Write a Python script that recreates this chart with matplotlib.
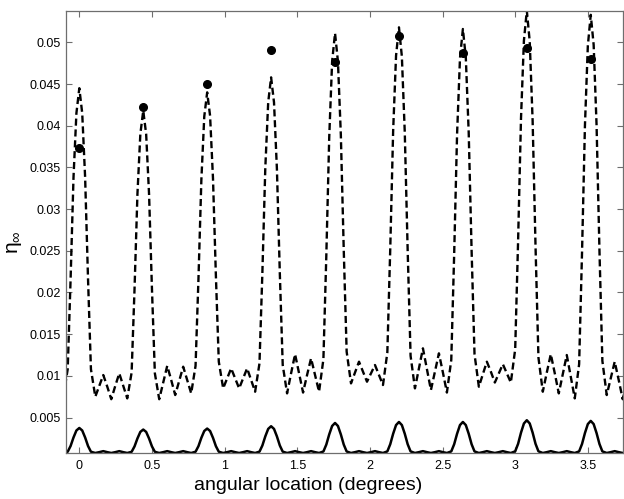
import matplotlib
matplotlib.use("Agg")
import matplotlib.pyplot as plt

plt.rcParams['font.family'] = ['Liberation Sans', 'DejaVu Sans']

# angular location (degrees), sampled around each of the nine main lobes
angle = [
    -0.11, -0.08, -0.06, -0.04, -0.02,
    0.00, 0.02, 0.04, 0.06, 0.08, 0.11, 0.1375, 0.165, 0.1925, 0.22, 0.2475, 0.275, 0.3025, 0.33, 0.36, 0.38, 0.40, 0.42,
    0.44, 0.46, 0.48, 0.50, 0.52, 0.55, 0.5775, 0.605, 0.6325, 0.66, 0.6875, 0.715, 0.7425, 0.77, 0.80, 0.82, 0.84, 0.86,
    0.88, 0.90, 0.92, 0.94, 0.96, 0.99, 1.0175, 1.045, 1.0725, 1.10, 1.1275, 1.155, 1.1825, 1.21, 1.24, 1.26, 1.28, 1.30,
    1.32, 1.34, 1.36, 1.38, 1.40, 1.43, 1.4575, 1.485, 1.5125, 1.54, 1.5675, 1.595, 1.6225, 1.65, 1.68, 1.70, 1.72, 1.74,
    1.76, 1.78, 1.80, 1.82, 1.84, 1.87, 1.8975, 1.925, 1.9525, 1.98, 2.0075, 2.035, 2.0625, 2.09, 2.12, 2.14, 2.16, 2.18,
    2.20, 2.22, 2.24, 2.26, 2.28, 2.31, 2.3375, 2.365, 2.3925, 2.42, 2.4475, 2.475, 2.5025, 2.53, 2.56, 2.58, 2.60, 2.62,
    2.64, 2.66, 2.68, 2.70, 2.72, 2.75, 2.7775, 2.805, 2.8325, 2.86, 2.8875, 2.915, 2.9425, 2.97, 3.00, 3.02, 3.04, 3.06,
    3.08, 3.10, 3.12, 3.14, 3.16, 3.19, 3.2175, 3.245, 3.2725, 3.30, 3.3275, 3.355, 3.3825, 3.41, 3.44, 3.46, 3.48, 3.50,
    3.52, 3.54, 3.56, 3.58, 3.60, 3.63, 3.6575, 3.685, 3.7125, 3.74, 3.7675, 3.795,
]

# dashed curve
eta_dashed = [
    0.0075, 0.0108, 0.0216, 0.0338, 0.0415,
    0.0445, 0.0415, 0.0338, 0.0216, 0.0108, 0.0075, 0.0088, 0.0101, 0.0087, 0.0072, 0.0088, 0.0103, 0.0088, 0.0073, 0.0104, 0.0204, 0.0318, 0.0390,
    0.0418, 0.0390, 0.0318, 0.0204, 0.0103, 0.0072, 0.0092, 0.0112, 0.0095, 0.0077, 0.0094, 0.0111, 0.0095, 0.0079, 0.0112, 0.0216, 0.0335, 0.0411,
    0.0440, 0.0412, 0.0337, 0.0220, 0.0117, 0.0085, 0.0097, 0.0109, 0.0097, 0.0085, 0.0097, 0.0109, 0.0095, 0.0081, 0.0115, 0.0224, 0.0349, 0.0428,
    0.0458, 0.0428, 0.0348, 0.0223, 0.0113, 0.0079, 0.0103, 0.0126, 0.0103, 0.0080, 0.0101, 0.0121, 0.0101, 0.0081, 0.0120, 0.0244, 0.0386, 0.0477,
    0.0511, 0.0477, 0.0389, 0.0251, 0.0129, 0.0091, 0.0104, 0.0117, 0.0105, 0.0093, 0.0103, 0.0113, 0.0101, 0.0089, 0.0128, 0.0252, 0.0394, 0.0484,
    0.0518, 0.0483, 0.0392, 0.0250, 0.0124, 0.0085, 0.0109, 0.0133, 0.0108, 0.0083, 0.0105, 0.0127, 0.0104, 0.0080, 0.0119, 0.0246, 0.0390, 0.0481,
    0.0516, 0.0482, 0.0392, 0.0250, 0.0126, 0.0087, 0.0102, 0.0117, 0.0105, 0.0092, 0.0103, 0.0114, 0.0103, 0.0092, 0.0132, 0.0262, 0.0409, 0.0502,
    0.0538, 0.0501, 0.0406, 0.0255, 0.0122, 0.0081, 0.0104, 0.0126, 0.0103, 0.0079, 0.0102, 0.0125, 0.0099, 0.0073, 0.0114, 0.0248, 0.0400, 0.0496,
    0.0533, 0.0497, 0.0401, 0.0250, 0.0118, 0.0077, 0.0097, 0.0117, 0.0095, 0.0072, 0.0091, 0.0110,
]

# solid curve
eta_solid = [
    0.00075, 0.00090, 0.00159, 0.00261, 0.00345,
    0.00375, 0.00345, 0.00261, 0.00159, 0.00090, 0.00075, 0.00085, 0.00097, 0.00085, 0.00075, 0.00085, 0.00097, 0.00085, 0.00075, 0.00089, 0.00154, 0.00249, 0.00328,
    0.00356, 0.00328, 0.00249, 0.00154, 0.00089, 0.00075, 0.00085, 0.00097, 0.00085, 0.00075, 0.00085, 0.00097, 0.00085, 0.00075, 0.00090, 0.00157, 0.00257, 0.00339,
    0.00368, 0.00339, 0.00257, 0.00157, 0.00090, 0.00075, 0.00085, 0.00097, 0.00085, 0.00075, 0.00085, 0.00097, 0.00085, 0.00075, 0.00091, 0.00165, 0.00274, 0.00364,
    0.00396, 0.00364, 0.00274, 0.00165, 0.00091, 0.00075, 0.00085, 0.00097, 0.00085, 0.00075, 0.00085, 0.00097, 0.00085, 0.00075, 0.00093, 0.00176, 0.00298, 0.00399,
    0.00435, 0.00399, 0.00298, 0.00176, 0.00093, 0.00075, 0.00085, 0.00097, 0.00085, 0.00075, 0.00085, 0.00097, 0.00085, 0.00075, 0.00094, 0.00180, 0.00306, 0.00410,
    0.00447, 0.00410, 0.00306, 0.00180, 0.00094, 0.00075, 0.00085, 0.00097, 0.00085, 0.00075, 0.00085, 0.00097, 0.00085, 0.00075, 0.00094, 0.00180, 0.00306, 0.00410,
    0.00447, 0.00410, 0.00306, 0.00180, 0.00094, 0.00075, 0.00085, 0.00097, 0.00085, 0.00075, 0.00085, 0.00097, 0.00085, 0.00075, 0.00095, 0.00185, 0.00319, 0.00429,
    0.00468, 0.00429, 0.00319, 0.00185, 0.00095, 0.00075, 0.00085, 0.00097, 0.00085, 0.00075, 0.00085, 0.00097, 0.00085, 0.00075, 0.00094, 0.00183, 0.00314, 0.00422,
    0.00460, 0.00422, 0.00314, 0.00183, 0.00094, 0.00075, 0.00085, 0.00097, 0.00085, 0.00075, 0.00085, 0.00097,
]

# measured points
dot_angle = [0.0, 0.44, 0.88, 1.32, 1.76, 2.20, 2.64, 3.08, 3.52]
dot_eta = [0.0373, 0.0423, 0.0450, 0.0491, 0.0477, 0.0507, 0.0487, 0.0493, 0.0480]

xticks = [0, 0.5, 1, 1.5, 2, 2.5, 3, 3.5]
xtick_labels = ['0', '0.5', '1', '1.5', '2', '2.5', '3', '3.5']
yticks = [0.005, 0.01, 0.015, 0.02, 0.025, 0.03, 0.035, 0.04, 0.045, 0.05]
ytick_labels = ['0.005', '0.01', '0.015', '0.02', '0.025', '0.03', '0.035', '0.04', '0.045', '0.05']

fig = plt.figure(figsize=(6.24, 4.99), dpi=100)
ax = fig.add_axes([0.1058, 0.0922, 0.8926, 0.8858])

ax.plot(angle, eta_dashed, color='black', lw=1.7, linestyle=(0, (3, 1.6)))
ax.plot(angle, eta_solid, color='black', lw=1.8)
ax.plot(dot_angle, dot_eta, 'o', color='black', markersize=5.5, zorder=5)

ax.set_xlim(-0.0915, 3.742)
ax.set_ylim(0.00075, 0.05376)

ax.set_xticks(xticks)
ax.set_xticklabels(xtick_labels)
ax.set_yticks(yticks)
ax.set_yticklabels(ytick_labels)

grey = '#6e6e6e'
for sp in ax.spines.values():
    sp.set_color(grey)
    sp.set_linewidth(0.9)
ax.tick_params(direction='in', length=4, width=0.8, color=grey,
               top=True, right=True, labelsize=9, labelcolor='black')
ax.tick_params(axis='x', pad=5)
ax.tick_params(axis='y', pad=4)

# figure looks cropped on the right, so the labels sit left of the axes centre
ax.set_xlabel('angular location (degrees)', fontsize=14, labelpad=1)
ax.xaxis.set_label_coords(0.435, -0.055)
ax.set_ylabel(r'$\mathregular{η_{∞}}$', fontsize=15, labelpad=4)
ax.yaxis.set_label_coords(-0.075, 0.477)

fig.savefig('out.png', dpi=100)
